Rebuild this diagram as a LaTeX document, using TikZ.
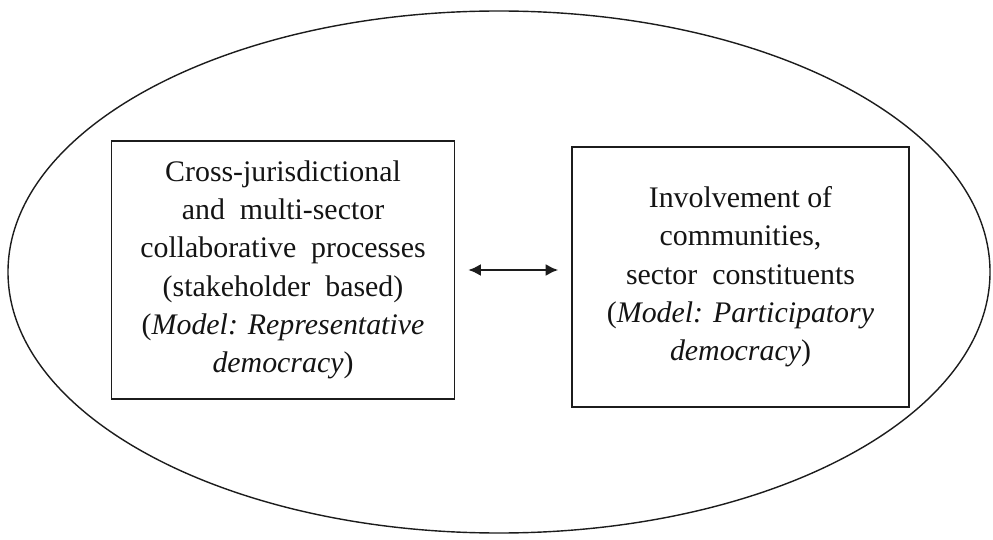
\documentclass[tikz,border=0pt]{standalone}
\usepackage{fontspec}
\setmainfont{Liberation Serif}
\usetikzlibrary{
  arrows.meta,
  positioning
}
\definecolor{inkcolor}{RGB}{28, 28, 28}
\definecolor{labelcolor}{RGB}{20, 20, 20}
\tikzset{
boxtext/.style={
  align=center,
  font=\fontsize{17}{21.8}\selectfont,
  text=labelcolor
},
processbox/.style={
  draw=inkcolor,
  line width=0.9pt,
  inner sep=0pt,
  boxtext
},
scopeoval/.style={
  draw=inkcolor,
  line width=0.8pt
},
twowayarrow/.style={
  {Latex[length=2.5mm,width=2.4mm]}-{Latex[length=2.5mm,width=2.4mm]},
  line width=1.3pt,
  draw=inkcolor,
  shorten <=0.26cm,
  shorten >=0.26cm
}
}

\begin{document}
\begin{tikzpicture}[x=0.02cm, y=-0.02cm]
    \useasboundingbox (0,0) rectangle (993,540);

    % Outer frame round both models
    \draw[scopeoval] (499,272) ellipse [x radius=491, y radius=261];

    % The two models
    \node[processbox, minimum width=6.86cm, minimum height=5.16cm] (stake) at (283,270)
      {Cross-jurisdictional\\ and\ \ multi-sector\\ collaborative\ \ processes\\ (stakeholder\ \ based)\\ (\textit{Model: Representative}\\ \textit{democracy})};
    \node[processbox, minimum width=6.74cm, minimum height=5.2cm, right=2.32cm of stake, yshift=-0.14cm] (comm)
      {Involvement of\\ communities,\\ sector\ \ constituents\\ (\textit{Model: Participatory}\\ \textit{democracy})};

    % Link between them
    \draw[twowayarrow] (stake.east) -- (stake.east -| comm.west);

  \end{tikzpicture}
\end{document}
